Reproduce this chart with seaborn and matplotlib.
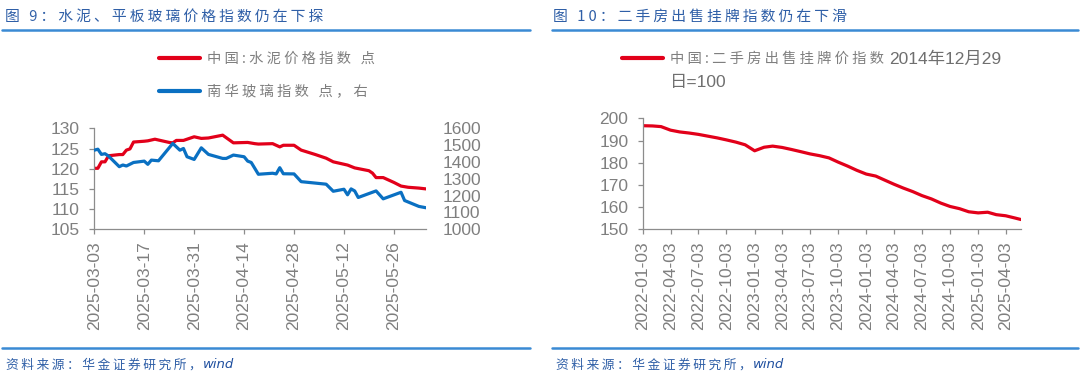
import matplotlib
matplotlib.use('Agg')
import matplotlib.pyplot as plt
import matplotlib.dates as mdates
from matplotlib.lines import Line2D
from matplotlib.font_manager import FontProperties
import pandas as pd
import seaborn as sns

# fig 9: cement price index (left axis), Nanhua glass index (right axis)
cement_dates = ['2025-03-03', '2025-03-04', '2025-03-05', '2025-03-06', '2025-03-07', '2025-03-10',
                '2025-03-11', '2025-03-12', '2025-03-13', '2025-03-14', '2025-03-17', '2025-03-18',
                '2025-03-20', '2025-03-21', '2025-03-24', '2025-03-25', '2025-03-26', '2025-03-28',
                '2025-03-31', '2025-04-02', '2025-04-04', '2025-04-08', '2025-04-11', '2025-04-15',
                '2025-04-17', '2025-04-18', '2025-04-22', '2025-04-24', '2025-04-25', '2025-04-28',
                '2025-04-30', '2025-05-04', '2025-05-07', '2025-05-09', '2025-05-13', '2025-05-15',
                '2025-05-19', '2025-05-20', '2025-05-21', '2025-05-23', '2025-05-26', '2025-05-28',
                '2025-05-30', '2025-06-02', '2025-06-04']
cement_index = [120.1, 120.1, 121.7, 121.7, 123.2, 123.5,
                123.5, 124.6, 124.9, 126.6, 126.8, 126.9,
                127.3, 127.1, 126.5, 126.4, 127.0, 127.0,
                127.9, 127.5, 127.6, 128.3, 126.4, 126.5,
                126.2, 126.1, 126.2, 125.4, 125.8, 125.8,
                124.6, 123.5, 122.6, 121.7, 120.9, 120.2,
                119.5, 118.9, 117.8, 117.8, 116.6, 115.7,
                115.4, 115.2, 115.0]

glass_dates = ['2025-03-03', '2025-03-04', '2025-03-05', '2025-03-06', '2025-03-07', '2025-03-10',
               '2025-03-11', '2025-03-12', '2025-03-14', '2025-03-17', '2025-03-18', '2025-03-19',
               '2025-03-21', '2025-03-25', '2025-03-27', '2025-03-28', '2025-03-29', '2025-03-31',
               '2025-04-02', '2025-04-04', '2025-04-08', '2025-04-09', '2025-04-11', '2025-04-14',
               '2025-04-15', '2025-04-16', '2025-04-18', '2025-04-22', '2025-04-23', '2025-04-24',
               '2025-04-25', '2025-04-28', '2025-04-30', '2025-05-07', '2025-05-09', '2025-05-12',
               '2025-05-13', '2025-05-14', '2025-05-15', '2025-05-16', '2025-05-21', '2025-05-23',
               '2025-05-28', '2025-05-29', '2025-06-02', '2025-06-04']
glass_index = [1470, 1476, 1445, 1449, 1435, 1372,
               1382, 1376, 1397, 1405, 1386, 1411,
               1407, 1510, 1470, 1480, 1431, 1415,
               1484, 1445, 1421, 1421, 1441, 1431,
               1405, 1397, 1327, 1333, 1329, 1366,
               1330, 1329, 1283, 1268, 1226, 1238,
               1205, 1240, 1228, 1189, 1228, 1181,
               1220, 1171, 1136, 1128]

cement_ticks = ['2025-03-03', '2025-03-17', '2025-03-31', '2025-04-14',
                '2025-04-28', '2025-05-12', '2025-05-26']

# fig 10: second-hand housing listing price index (2014-12-29 = 100)
resale_dates = ['2022-01-03', '2022-02-03', '2022-03-03', '2022-04-03', '2022-05-03', '2022-06-03',
                '2022-07-03', '2022-08-03', '2022-09-03', '2022-10-03', '2022-11-03', '2022-12-03',
                '2023-01-03', '2023-02-03', '2023-03-03', '2023-04-03', '2023-05-03', '2023-06-03',
                '2023-07-03', '2023-08-03', '2023-09-03', '2023-10-03', '2023-11-03', '2023-12-03',
                '2024-01-03', '2024-02-03', '2024-03-03', '2024-04-03', '2024-05-03', '2024-06-03',
                '2024-07-03', '2024-08-03', '2024-09-03', '2024-10-03', '2024-11-03', '2024-12-03',
                '2025-01-03', '2025-02-03', '2025-03-03', '2025-04-03', '2025-05-03', '2025-05-23']
resale_index = [196.7, 196.6, 196.3, 194.7, 193.9, 193.4,
                192.8, 192.0, 191.2, 190.3, 189.3, 188.1,
                185.4, 187.0, 187.5, 186.9, 186.0, 185.0,
                184.0, 183.2, 182.2, 180.3, 178.5, 176.6,
                174.9, 174.0, 172.2, 170.3, 168.6, 167.0,
                165.2, 163.7, 161.8, 160.3, 159.3, 157.9,
                157.4, 157.7, 156.6, 156.1, 155.1, 154.4]

resale_ticks = ['2022-01-03', '2022-04-03', '2022-07-03', '2022-10-03', '2023-01-03', '2023-04-03',
                '2023-07-03', '2023-10-03', '2024-01-03', '2024-04-03', '2024-07-03', '2024-10-03',
                '2025-01-03', '2025-04-03']

RED = '#e2001a'
BLUE = '#0a70c2'
GREY = '#7f7f7f'
TITLE_BLUE = '#2f5fa7'
RULE_BLUE = '#3a8ad4'
CJK = ['Noto Sans CJK SC', 'DejaVu Sans']

sns.set_style('ticks')
plt.rcParams['font.family'] = ['Liberation Sans', 'Noto Sans CJK SC', 'DejaVu Sans']
plt.rcParams['axes.unicode_minus'] = False

W, H = 1080, 377


def fx(x):
    return x / W


def fy(y):
    return 1 - y / H


def spaced(s, sep='\u2009'):
    # the report fonts use wide letter spacing
    return sep.join(s)


fig = plt.figure(figsize=(W / 100, H / 100), dpi=100)
fig.patch.set_facecolor('white')


def style_axis(ax):
    for s in ['top', 'right']:
        ax.spines[s].set_visible(False)
    for s in ['left', 'bottom']:
        ax.spines[s].set_color('#8c8c8c')
        ax.spines[s].set_linewidth(0.9)
    ax.tick_params(axis='y', direction='out', length=3.5, width=0.9, color='#8c8c8c',
                   labelsize=12.5, labelcolor=GREY, pad=7)
    ax.tick_params(axis='x', direction='out', length=3.8, width=0.9, color='#8c8c8c',
                   labelsize=12.5, labelcolor=GREY, pad=5, labelrotation=90)
    ax.set_xlabel('')
    ax.set_ylabel('')
    ax.xaxis.set_major_formatter(mdates.DateFormatter('%Y-%m-%d'))


# ---- left chart ----
ax1 = fig.add_axes([fx(94.3), fy(229.3), fx(426 - 94.3), (229.3 - 128.3) / H])
sns.lineplot(x=pd.to_datetime(cement_dates), y=cement_index, ax=ax1, color=RED, linewidth=2.3)
ax1.set_xlim(pd.Timestamp('2025-03-03'), pd.Timestamp('2025-06-04'))
ax1.set_ylim(105, 130)
ax1.set_yticks(range(105, 131, 5))
ax1.set_xticks(pd.to_datetime(cement_ticks))
style_axis(ax1)

ax1b = ax1.twinx()
sns.lineplot(x=pd.to_datetime(glass_dates), y=glass_index, ax=ax1b, color=BLUE, linewidth=2.3)
ax1b.set_ylim(1000, 1600)
ax1b.set_yticks(range(1000, 1601, 100))
for s in ax1b.spines.values():
    s.set_visible(False)
ax1b.tick_params(axis='y', length=0, labelsize=12.5, labelcolor=GREY, pad=12)
ax1b.set_ylabel('')
ax1b.set_xlabel('')

# ---- right chart ----
ax2 = fig.add_axes([fx(643), fy(229.3), fx(1021 - 643), (229.3 - 118.4) / H])
sns.lineplot(x=pd.to_datetime(resale_dates), y=resale_index, ax=ax2, color=RED, linewidth=2.3)
ax2.set_xlim(pd.Timestamp('2022-01-03'), pd.Timestamp('2025-05-23'))
ax2.set_ylim(150, 200)
ax2.set_yticks(range(150, 201, 10))
ax2.set_xticks(pd.to_datetime(resale_ticks))
style_axis(ax2)

# ---- legends (one row each, centred on the reference rows) ----
leg_font = FontProperties(family=CJK, size=10.3)
legend_rows = [
    (RED, spaced('中国:水泥价格指数', ' ') + '   点', 159, 59),
    (BLUE, spaced('南华玻璃指数', ' ') + '   ' + spaced('点，右', ' '), 159, 92),
    (RED, spaced('中国:二手房出售挂牌价指数', ' '), 622, 59),
]
legends = []
for color, label, x, y in legend_rows:
    lg = fig.legend([Line2D([], [], color=color, lw=3)], [label],
                    loc='center left', bbox_to_anchor=(fx(x), fy(y)), frameon=False,
                    borderpad=0, borderaxespad=0, handlelength=2.85, handletextpad=0.5,
                    prop=leg_font, labelcolor=GREY)
    legends.append(lg)

fig.canvas.draw()
renderer = fig.canvas.get_renderer()
bb = legends[2].get_texts()[0].get_window_extent(renderer)
fig.text(bb.x1 / W + 5 / W, fy(59), '2014年12月29', family=['Liberation Sans', 'Noto Sans CJK SC'],
         size=12.5, color='#6f6f6f', va='center', ha='left')
fig.text(bb.x0 / W, fy(83), '日=100', family=['Liberation Sans', 'Noto Sans CJK SC'],
         size=12.5, color='#6f6f6f', va='center', ha='left')

# ---- titles, rules and sources ----
title_font = dict(family=CJK, size=10.7, color=TITLE_BLUE, va='center', ha='left')
fig.text(fx(5), fy(17), spaced('图 9：水泥、平板玻璃价格指数仍在下探'), **title_font)
fig.text(fx(553), fy(17), spaced('图 10：二手房出售挂牌指数仍在下滑'), **title_font)

for x0, x1 in [(2, 530), (552, 1078)]:
    for y in (29.5, 348):
        fig.add_artist(Line2D([fx(x0), fx(x1)], [fy(y), fy(y)], transform=fig.transFigure,
                              color=RULE_BLUE, linewidth=1.8))

for x0 in (6, 556):
    t = fig.text(fx(x0), fy(365), spaced('资料来源：华金证券研究所，'), family=CJK, size=9.2,
                 color=TITLE_BLUE, va='center', ha='left', style='italic')
    fig.canvas.draw()
    tb = t.get_window_extent(renderer)
    fig.text(tb.x1 / W + 1 / W, fy(365), 'wind', family='DejaVu Sans', size=9.5,
             color='#1f4f9f', va='center', ha='left', style='italic')

fig.savefig('out.png', dpi=100)
